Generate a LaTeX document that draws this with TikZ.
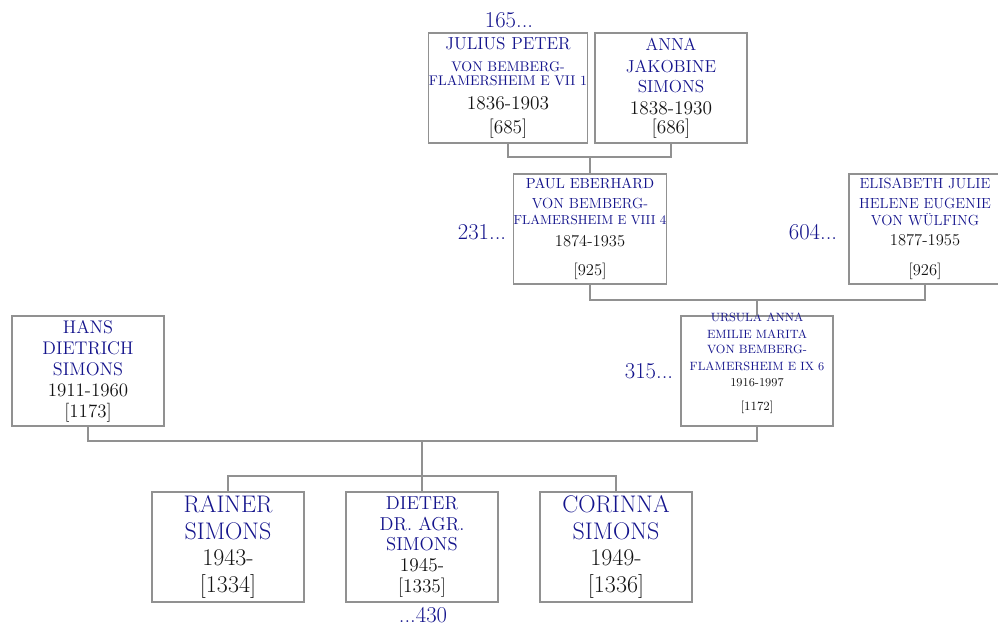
\documentclass[tikz,border=0pt]{standalone}
\usepackage{tikz}
\usepackage{xcolor}
\definecolor{namecol}{RGB}{20,20,140}
\definecolor{boxgray}{RGB}{145,145,145}
\definecolor{datecol}{RGB}{20,20,20}
\newcommand{\nameln}[2]{{\fontsize{#1}{#1}\selectfont\color{namecol}#2}}
\newcommand{\dateln}[2]{{\fontsize{#1}{#1}\selectfont\color{datecol}#2}}

\begin{document}
\begin{tikzpicture}[x=0.75pt,y=-0.75pt,
  person/.style={draw=boxgray,line width=0.9pt,minimum width=114pt,minimum height=82.5pt,inner sep=0pt,align=center},
  link/.style={draw=boxgray,line width=0.9pt},
  refno/.style={text=namecol,font=\fontsize{17}{17}\selectfont,inner sep=0pt}]
  \useasboundingbox (0,0) rectangle (998,628);

  \node[person,font=\fontsize{13}{10}\selectfont] (julius) at (508,88)
    {\nameln{13}{JULIUS PETER}\\[6pt] \nameln{10.5}{VON BEMBERG-}\\[0.5pt] \nameln{10.5}{FLAMERSHEIM E VII 1}\\[8pt] \dateln{14.5}{1836-1903}\\[6pt] \dateln{14.5}{[685]}};
  \node[person,font=\fontsize{13}{15}\selectfont] (anna) at (671,88)
    {\nameln{13}{ANNA}\\[1.5pt] \nameln{13}{JAKOBINE}\\ \nameln{13}{SIMONS}\\[1.5pt] \dateln{14.5}{1838-1930}\\[-1pt] \dateln{14.5}{[686]}};
  \node[person,font=\fontsize{11}{14.6}\selectfont] (paul) at (590,229)
    {\nameln{10.9}{PAUL EBERHARD}\\ \nameln{11}{VON BEMBERG-}\\[-2.2pt] \nameln{9.8}{FLAMERSHEIM E VIII 4}\\[1.5pt] \dateln{12.4}{1874-1935}\\[7.5pt] \dateln{12.4}{[925]}};
  \node[person,font=\fontsize{11}{14.6}\selectfont] (elisabeth) at (925,229)
    {\nameln{11}{ELISABETH JULIE}\\ \nameln{11}{HELENE EUGENIE}\\[-1.9pt] \nameln{11}{VON WÜLFING}\\[0.8pt] \dateln{12.4}{1877-1955}\\[7.9pt] \dateln{12.4}{[926]}};
  \node[person,font=\fontsize{13.7}{15.75}\selectfont] (hans) at (88,371)
    {\nameln{13.7}{HANS}\\ \nameln{13.7}{DIETRICH}\\ \nameln{13.7}{SIMONS}\\ \dateln{14.2}{1911-1960}\\ \dateln{14.2}{[1173]}};
  \node[person,font=\fontsize{9}{12}\selectfont,text height=70pt,text depth=11.5pt] (ursula) at (757,371)
    {\nameln{9}{URSULA ANNA}\\[0.75pt] \nameln{9}{EMILIE MARITA}\\[-0.75pt] \nameln{9}{VON BEMBERG-}\\[0.75pt] \nameln{9}{FLAMERSHEIM E IX 6}\\ \dateln{9}{1916-1997}\\[6pt] \dateln{9.4}{[1172]}};
  \node[person,font=\fontsize{18}{20}\selectfont] (rainer) at (228,547)
    {\nameln{18}{RAINER}\\ \nameln{18}{SIMONS}\\ \dateln{18}{1943-}\\ \dateln{18}{[1334]}};
  \node[person,font=\fontsize{14}{15.5}\selectfont] (dieter) at (422,547)
    {\nameln{14}{DIETER}\\ \nameln{14}{DR. AGR.}\\ \nameln{14}{SIMONS}\\ \dateln{14.5}{1945-}\\ \dateln{14.5}{[1335]}};
  \node[person,font=\fontsize{18}{20}\selectfont] (corinna) at (616,547)
    {\nameln{18}{CORINNA}\\ \nameln{18}{SIMONS}\\ \dateln{18}{1949-}\\ \dateln{18}{[1336]}};

  \node[refno] (r165) at (509,20) {165...};
  \node[refno] (r231) at (482,232) {231...};
  \node[refno] (r604) at (813,232) {604...};
  \node[refno] (r315) at (649,371) {315...};
  \node[refno] (r430) at (423,615) {...430};

  \coordinate (jm) at (590,157);
  \draw[link] (julius.south) |- (jm) -| (anna.south);
  \draw[link] (paul.north) -- (paul.north |- jm);
  \coordinate (pm) at (757,300);
  \draw[link] (paul.south) |- (pm) -| (elisabeth.south);
  \draw[link] (ursula.north) -- (ursula.north |- pm);
  \coordinate (hm) at (422,441);
  \draw[link] (hans.south) |- (hm) -| (ursula.south);
  \coordinate (km) at (422,476);
  \draw[link] (hm) -- (km);
  \draw[link] (rainer.north) |- (km) -| (corinna.north);
  \draw[link] (dieter.north) -- (dieter.north |- km);
\end{tikzpicture}
\end{document}
